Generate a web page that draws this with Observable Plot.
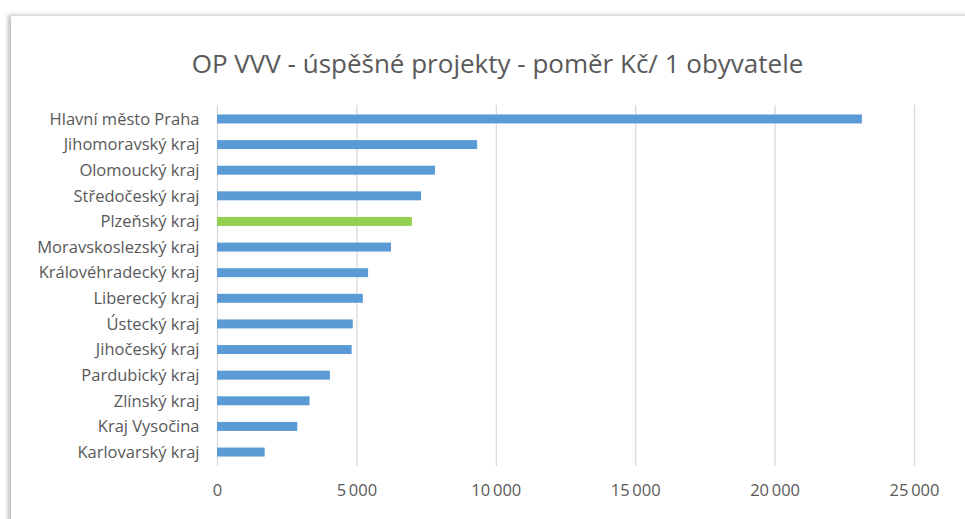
<!DOCTYPE html>
<html>
<head>
<meta charset="utf-8">
<script src="https://cdn.jsdelivr.net/npm/d3@7"></script>
<script src="https://cdn.jsdelivr.net/npm/@observablehq/plot@0.6"></script>
<style>
  html, body { margin: 0; padding: 0; background: #fff; width: 965px; height: 519px; overflow: hidden; }
  #frame { position: absolute; left: 11px; top: 16px; width: 1000px; height: 560px; background: #fff;
           box-shadow: -3px -1px 4px rgba(0,0,0,0.25); }
  #title { position: absolute; left: 0; top: 45px; width: 995px; text-align: center; line-height: 36px;
           font-family: "Open Sans", sans-serif; font-size: 26px; color: #595959; }
  #chart { position: absolute; left: 0; top: 90px; }
</style>
</head>
<body>
<div id="frame"></div>
<div id="title">OP VVV - úspěšné projekty - poměr Kč/ 1 obyvatele</div>
<div id="chart"></div>
<script>
const regions = [
  "Hlavní město Praha", "Jihomoravský kraj", "Olomoucký kraj", "Středočeský kraj",
  "Plzeňský kraj", "Moravskoslezský kraj", "Královéhradecký kraj", "Liberecký kraj",
  "Ústecký kraj", "Jihočeský kraj", "Pardubický kraj", "Zlínský kraj",
  "Kraj Vysočina", "Karlovarský kraj"
];
const values = [23130, 9330, 7820, 7320, 6990, 6240, 5420, 5230, 4870, 4830, 4050, 3320, 2880, 1710];
const highlight = "Plzeňský kraj";
const xTicks = [0, 5000, 10000, 15000, 20000, 25000];

const data = regions.map((r, i) => ({region: r, value: values[i]}));
const fmt = v => d3.format(",")(v).replace(/,/g, "\u2009");

const chart = Plot.plot({
  width: 965,
  height: 429,
  marginLeft: 217,
  marginRight: 51,
  marginTop: 15,
  marginBottom: 53,
  style: { fontFamily: "Open Sans, sans-serif", fontSize: "16px", color: "#595959", background: "transparent" },
  x: { domain: [0, 25000], ticks: xTicks, tickFormat: fmt, label: null },
  y: { domain: regions, paddingInner: 0.65, paddingOuter: 0.37, round: false, label: null },
  marks: [
    Plot.gridX(xTicks, { stroke: "#d9d9d9", strokeOpacity: 1, strokeWidth: 1.3 }),
    Plot.barX(data, { x: "value", y: "region", fill: d => d.region === highlight ? "#92D050" : "#5B9BD5" }),
    Plot.axisX({ ticks: xTicks, tickFormat: fmt, tickSize: 0, tickPadding: 18, fontSize: 16.5, fill: "#595959", label: null, style: { letterSpacing: "0.5px" } }),
    Plot.axisY({ tickSize: 0, tickPadding: 18, fontSize: 16.5, fill: "#595959", label: null, style: { letterSpacing: "0.45px" } })
  ]
});
document.getElementById("chart").appendChild(chart);
</script>
</body>
</html>
